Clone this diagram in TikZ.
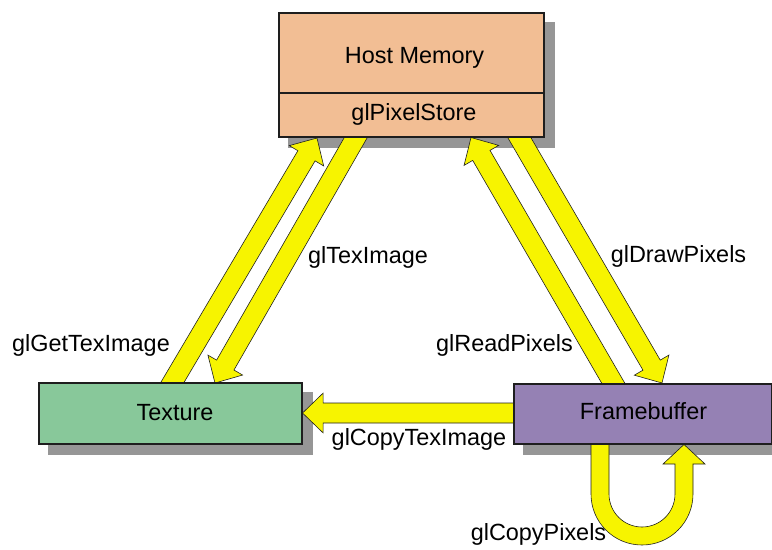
\documentclass[tikz,border=0pt]{standalone}
\usepackage{fontspec}
\setmainfont{Liberation Sans}
\usetikzlibrary{calc}

\definecolor{hostfill}{HTML}{F2BE94}
\definecolor{texfill}{HTML}{88C89A}
\definecolor{fbfill}{HTML}{9581B4}
\definecolor{shadowgray}{HTML}{969696}
\definecolor{arrowyellow}{HTML}{F7F400}
\definecolor{edgecol}{HTML}{1E1E1E}

\pgfdeclarelayer{shadows}
\pgfdeclarelayer{arrows}
\pgfsetlayers{shadows,arrows,main}

% block arrow from #1 (tail) to #2 (tip)
\def\shaftw{0.3cm}
\def\headw{0.6cm}
\def\headlen{0.62cm}
\newcommand\blockarrow[2]{%
  \coordinate (ba-h) at ($(#2)!\headlen!(#1)$);
  \draw[blockarr] ($(#1)!\shaftw!90:(#2)$) -- ($(ba-h)!\shaftw!-90:(#1)$)
    -- ($(ba-h)!\headw!-90:(#1)$) -- (#2) -- ($(ba-h)!\headw!90:(#1)$)
    -- ($(ba-h)!\shaftw!90:(#1)$) -- ($(#1)!\shaftw!-90:(#2)$) -- cycle;}

\tikzset{
  box/.style={draw=edgecol, line width=0.9pt, inner sep=0pt},
  blockarr/.style={fill=arrowyellow, draw=edgecol, line width=0.5pt, line join=miter},
  lbl/.style={font=\fontsize{20}{24}\selectfont, inner sep=0pt, anchor=base},
  shadow/.style={fill=shadowgray}
}

\begin{document}
\begin{tikzpicture}[x=0.03cm, y=-0.03cm]
\useasboundingbox (0,0) rectangle (772,549);

% boxes
\node[box, fill=hostfill, minimum width=7.95cm, minimum height=3.72cm] (host) at (411.5,75) {};
\node[box, fill=texfill, minimum width=7.89cm, minimum height=1.83cm] (tex) at (170.5,413.5) {};
\node[box, fill=fbfill, minimum width=7.74cm, minimum height=1.80cm] (fb) at (643,414) {};
\coordinate (divy) at (0,93);
\draw[edgecol, line width=0.9pt] (host.west |- divy) -- (host.east |- divy);

% drop shadows
\begin{pgfonlayer}{shadows}
  \foreach \b in {host,tex,fb}
    \fill[shadow] ($(\b.south west)+(10,10)$) rectangle ($(\b.north east)+(10,10)$);
\end{pgfonlayer}

% arrow ends
\coordinate (gtA) at (162,400);  \coordinate (gtB) at (317,138);
\coordinate (tiA) at (363,125);  \coordinate (tiB) at (215,383);
\coordinate (rpA) at (623,400);  \coordinate (rpB) at (471,137.5);
\coordinate (dpA) at (512,125);  \coordinate (dpB) at (662,383);
\coordinate (ctA) at (530,413);  \coordinate (ctB) at (tex.east |- ctA);

\begin{pgfonlayer}{arrows}
  \blockarrow{gtA}{gtB}
  \blockarrow{tiA}{tiB}
  \blockarrow{rpA}{rpB}
  \blockarrow{dpA}{dpB}
  \blockarrow{ctA}{ctB}
  % copy-pixels loop below the framebuffer
  \coordinate (lpA) at (591,430);
  \coordinate (lpTip) at (684,444.5);
  \draw[blockarr] (lpA) -- (591,494) arc[start angle=180, end angle=360, radius=1.53cm]
    -- (693,464) -- (705,464) -- (lpTip) -- (663,464) -- (675,464) -- (675,494)
    arc[start angle=0, end angle=-180, radius=0.99cm] -- (609,430) -- cycle;
\end{pgfonlayer}

% texts
\node[lbl] (thost) at (414.5,63) {Host Memory};
\node[lbl] (tstore) at (414,120) {glPixelStore};
\node[lbl] (ttex) at (175,420) {Texture};
\node[lbl] (tfb) at (643.5,419) {Framebuffer};
\node[lbl] (lti) at (368,263) {glTexImage};
\node[lbl] (lgt) at (91,351) {glGetTexImage};
\node[lbl] (lrp) at (504.5,351) {glReadPixels};
\node[lbl] (ldp) at (678.5,262) {glDrawPixels};
\node[lbl] (lct) at (419,445) {glCopyTexImage};
\node[lbl] (lcp) at (538.5,540) {glCopyPixels};
\end{tikzpicture}
\end{document}
